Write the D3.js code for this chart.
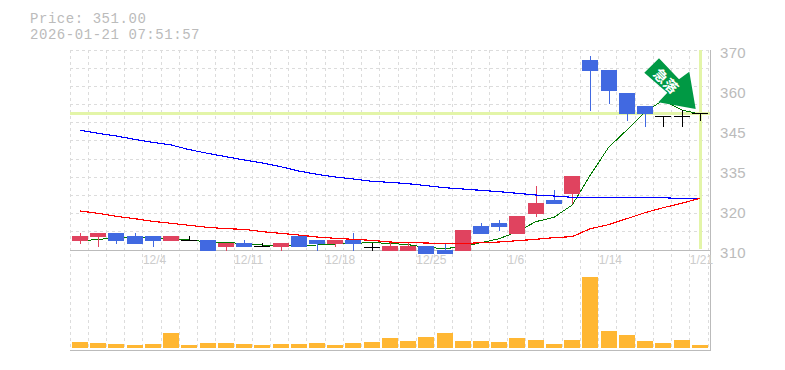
<!DOCTYPE html>
<html>
<head>
<meta charset="utf-8">
<script src="https://d3js.org/d3.v7.min.js"></script>
<style>
  html, body { margin: 0; padding: 0; background: #fff; }
  svg { display: block; }
</style>
</head>
<body>
<div class="chart"></div>
<script>
let titleLines = ['Price: 351.00', '2026-01-21 07:51:57'];
let currentPrice = 351;

// ohlc per trading day
let open = [312.8, 313.9, 315.1, 314.2, 314.2, 312.8, 313.0, 313.0, 310.9, 312.1, 311.1, 310.9, 314.2, 313.0, 311.8, 313.0, 311.0, 309.7, 309.7, 311.2, 310.0, 309.7, 317.2, 318.1, 314.8, 320.8, 325.0, 326.8, 367.0, 364.0, 357.1, 353.2, 350.2, 350.2, 351.1];
let close = [314.2, 315.2, 312.8, 311.8, 312.8, 314.2, 313.0, 309.8, 312.2, 310.9, 311.1, 312.1, 310.9, 311.8, 313.0, 311.8, 311.0, 311.2, 311.2, 308.8, 308.8, 316.0, 314.8, 316.9, 320.2, 324.1, 323.8, 332.2, 363.7, 357.7, 350.8, 350.8, 350.2, 350.2, 351.1];
let high = [315.2, 315.2, 315.1, 315.1, 314.2, 314.2, 314.2, 313.0, 312.2, 313.0, 312.1, 312.1, 314.2, 313.0, 313.0, 315.1, 312.1, 312.3, 312.3, 311.2, 312.1, 316.0, 318.1, 319.0, 320.2, 329.2, 328.0, 332.2, 368.2, 364.0, 357.1, 353.2, 350.2, 352.0, 351.1];
let low = [311.8, 310.9, 311.8, 311.8, 310.9, 312.8, 313.0, 309.8, 309.7, 310.9, 311.1, 309.7, 310.9, 309.7, 310.9, 309.7, 309.7, 309.7, 309.7, 308.8, 308.8, 309.7, 314.8, 315.7, 314.8, 319.9, 323.8, 323.8, 351.7, 353.8, 348.7, 346.9, 346.9, 346.9, 348.7];
let volume = [6, 5, 4, 3, 4, 15, 3, 5, 5, 4, 3, 4, 4, 5, 3, 5, 6, 10, 7, 11, 15, 7, 7, 6, 10, 8, 4, 8, 71, 17, 13, 7, 5, 8, 3];

let maShort = [312.7, 313.2, 313.6, 313.7, 313.7, 313.4, 313.0, 312.4, 312.2, 312.0, 311.5, 311.1, 311.4, 311.5, 311.8, 312.0, 312.2, 312.0, 311.6, 310.8, 310.4, 311.0, 312.2, 313.4, 315.5, 318.5, 319.8, 323.5, 332.5, 340.8, 346.0, 351.4, 355.0, 352.0, 350.8];
let maMid = [321.7, 321.0, 320.1, 319.4, 318.6, 318.0, 317.4, 316.8, 316.4, 316.2, 315.5, 315.0, 314.5, 313.9, 313.5, 313.2, 312.9, 312.4, 312.2, 312.1, 311.9, 311.9, 312.2, 312.4, 312.8, 313.2, 313.7, 314.0, 316.4, 317.6, 319.4, 321.2, 322.7, 324.0, 325.5];
let maLong = [345.9, 345.0, 344.2, 343.2, 342.3, 341.5, 340.1, 339.0, 338.0, 337.0, 336.1, 335.0, 333.7, 332.7, 331.9, 331.3, 330.6, 330.3, 329.9, 329.3, 328.7, 328.3, 327.9, 327.5, 327.0, 326.5, 326.2, 325.8, 325.7, 325.7, 325.7, 325.7, 325.7, 325.4, 325.5];

let priceTicks = [370, 358, 346, 334, 322, 310];
let priceLabels = ['370', '360', '345', '335', '320', '310'];
let dateTicks = [4, 9, 14, 19, 24, 29, 34];
let dateLabels = ['12/4', '12/11', '12/18', '12/25', '1/6', '1/14', '1/21'];

let width = 785;
let height = 370;
let plot = {left: 70, right: 708, border: 710, top: 50, bottom: 250, volTop: 277, volBottom: 348, end: 350};

let svg = d3.select('.chart')
  .append('svg')
  .attr('width', width)
  .attr('height', height);

let days = d3.range(open.length);

let xScale = d3.scaleBand()
  .domain(days)
  .range([plot.left, plot.right]);
let center = i => xScale(i) + 10;

let yScale = d3.scaleLinear()
  .domain([310, 370])
  .range([plot.bottom, plot.top]);

let volScale = d3.scaleLinear()
  .domain([0, d3.max(volume)])
  .range([plot.volBottom, plot.volTop]);

// grid
let grid = svg.append('g')
  .attr('stroke', '#dcdcdc')
  .attr('stroke-dasharray', '3,3')
  .attr('shape-rendering', 'crispEdges');

grid.selectAll('.v')
  .data(days.concat([days.length]))
  .enter()
  .append('line')
  .attr('x1', d => Math.floor(plot.left + d * xScale.step()) + 0.5)
  .attr('x2', d => Math.floor(plot.left + d * xScale.step()) + 0.5)
  .attr('y1', plot.top)
  .attr('y2', plot.end);

grid.selectAll('.h')
  .data(d3.range(12))
  .enter()
  .append('line')
  .attr('x1', plot.left)
  .attr('x2', plot.border)
  .attr('y1', d => Math.floor(plot.top + d * (plot.bottom - plot.top) / 11) + 0.5)
  .attr('y2', d => Math.floor(plot.top + d * (plot.bottom - plot.top) / 11) + 0.5);

// current price + current day markers
svg.append('line')
  .attr('x1', plot.left)
  .attr('x2', plot.border)
  .attr('y1', yScale(currentPrice))
  .attr('y2', yScale(currentPrice))
  .attr('stroke', '#e3f5a8')
  .attr('stroke-width', 3)
  .attr('shape-rendering', 'crispEdges');

svg.append('line')
  .attr('x1', center(34) + 0.5)
  .attr('x2', center(34) + 0.5)
  .attr('y1', plot.top)
  .attr('y2', plot.bottom - 1)
  .attr('stroke', '#e3f5a8')
  .attr('stroke-width', 3)
  .attr('shape-rendering', 'crispEdges');

// axes frame
svg.append('path')
  .attr('d', `M${plot.left},${plot.bottom + 0.5}H${plot.border + 0.5}M${plot.border + 0.5},${plot.top}V${plot.end + 0.5}H${plot.left}`)
  .attr('fill', 'none')
  .attr('stroke', '#bbb')
  .attr('shape-rendering', 'crispEdges');

let lineFor = d3.line()
  .x((d, i) => center(i))
  .y(d => yScale(d));

function drawLine(values, color, w) {
  svg.append('path')
    .datum(values)
    .attr('d', lineFor)
    .attr('fill', 'none')
    .attr('stroke', color)
    .attr('stroke-width', w)
    .attr('shape-rendering', 'crispEdges');
}

drawLine(maShort, '#007a00', 1);

// candles
let candleColor = i => open[i] === close[i] ? '#000' : (close[i] > open[i] ? '#e0435f' : '#4169e1');

let candles = svg.append('g').attr('shape-rendering', 'crispEdges');

candles.selectAll('.wick')
  .data(days)
  .enter()
  .append('line')
  .attr('x1', i => Math.round(center(i)) + 0.5)
  .attr('x2', i => Math.round(center(i)) + 0.5)
  .attr('y1', i => yScale(high[i]))
  .attr('y2', i => yScale(low[i]))
  .attr('stroke', candleColor);

candles.selectAll('.body')
  .data(days)
  .enter()
  .append('rect')
  .attr('x', i => xScale(i) + 2)
  .attr('y', i => yScale(Math.max(open[i], close[i])))
  .attr('width', 16)
  .attr('height', i => Math.max(1, Math.abs(yScale(open[i]) - yScale(close[i]))))
  .attr('fill', candleColor);

drawLine(maLong, '#0000ff', 1.15);
drawLine(maMid, '#ff0000', 1.15);

// volume
svg.selectAll('.vol')
  .data(days)
  .enter()
  .append('rect')
  .attr('x', i => xScale(i) + 2)
  .attr('y', i => volScale(volume[i]))
  .attr('width', 16)
  .attr('height', i => volScale(0) - volScale(volume[i]))
  .attr('fill', '#ffb733')
  .attr('shape-rendering', 'crispEdges');

// axis labels
let yAxis = d3.axisRight(yScale)
  .tickValues(priceTicks)
  .tickFormat((d, i) => priceLabels[i])
  .tickSize(0)
  .tickPadding(10);

let yG = svg.append('g')
  .attr('transform', `translate(${plot.border}, 3)`)
  .call(yAxis);
yG.select('.domain').remove();
yG.selectAll('text')
  .attr('fill', '#bbb')
  .style('font', '15px "Liberation Sans"')
  .style('letter-spacing', '0.3px');

let xAxis = d3.axisBottom(xScale)
  .tickValues(dateTicks)
  .tickFormat((d, i) => dateLabels[i])
  .tickSize(0)
  .tickPadding(5);

let xG = svg.append('g')
  .attr('transform', `translate(0, ${plot.bottom})`)
  .call(xAxis);
xG.select('.domain').remove();
xG.selectAll('.tick')
  .attr('transform', d => `translate(${xScale(d)}, 0)`);
xG.selectAll('text')
  .attr('text-anchor', 'start')
  .attr('fill', '#ccc')
  .style('font', '12px "Liberation Sans"');

// title
svg.selectAll('.title')
  .data(titleLines)
  .enter()
  .append('text')
  .attr('x', 30)
  .attr('y', (d, i) => 22.5 + i * 16)
  .attr('fill', '#bbb')
  .style('font', '14px "Liberation Mono"')
  .style('letter-spacing', '0.55px')
  .text(d => d);

// sell-off arrow
let arrowPoints = [[644.3, 72.7], [659, 58.3], [679, 79.3], [689.3, 71.7], [695.7, 109], [658.3, 102.3], [667.3, 92.7]];

svg.append('polygon')
  .attr('points', arrowPoints.join(' '))
  .attr('fill', '#009944');

svg.append('text')
  .attr('transform', 'translate(666.5, 80.5) rotate(45)')
  .attr('text-anchor', 'middle')
  .attr('dominant-baseline', 'central')
  .attr('fill', '#fff')
  .style('font', 'bold 14px "Noto Sans CJK JP"')
  .text('急落');
</script>
</body>
</html>
